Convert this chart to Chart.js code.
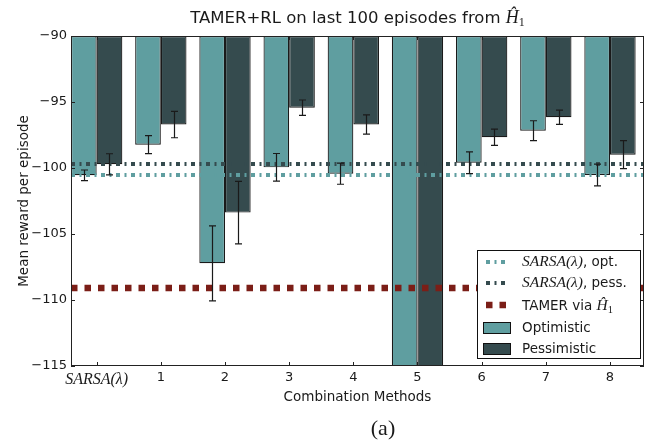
<!DOCTYPE html>
<html lang="en">
<head>
    <meta charset="UTF-8">
    <title>TAMER+RL on last 100 episodes</title>
    <script src="https://cdn.jsdelivr.net/npm/chart.js"></script>
    <style>
        body { margin: 0; background: #fff; }
        #wrap { width: 647px; height: 441px; }
    </style>
</head>
<body>
<div id="wrap"><canvas id="chart" width="647" height="441"></canvas></div>
<script>
    // x axis categories
    var methods = ['SARSA(\u03bb)', '1', '2', '3', '4', '5', '6', '7', '8'];
    // mean reward per episode (bars hang down from the top of the axis)
    var optimistic  = [-100.55, -98.23, -107.22, -99.95, -100.43, -121, -99.60, -97.17, -100.53];
    var pessimistic = [-99.72, -96.71, -103.38, -95.43, -96.71, -122, -97.67, -96.16, -98.99];
    // error bar half widths
    var optErr  = [0.40, 0.68, 2.84, 1.05, 0.80, 0, 0.82, 0.75, 0.82];
    var pessErr = [0.80, 1.00, 2.37, 0.58, 0.73, 0, 0.62, 0.54, 1.06];
    // reference levels
    var sarsaOpt = -100.53;
    var sarsaPess = -99.70;
    var tamerH1 = -109.09;
    // axis ranges
    var yMin = -115, yMax = -90, yStep = 5;
    var xMin = -0.4, xMax = 8.53;

    var optColor = '#5F9EA0';
    var pessColor = '#354B4E';
    var tamerColor = '#7B1E17';
    var sans = '"DejaVu Sans"';
    var serif = '"Liberation Serif"';

    function barData(vals) {
        return vals.map(function(v, i) { return {x: i, y: [yMax, v]}; });
    }
    function hline(v) {
        return [{x: xMin, y: v}, {x: xMax, y: v}];
    }

    // draw a row of text pieces with different fonts
    function drawRuns(ctx, runs, x, y, align) {
        var w = 0;
        runs.forEach(function(r) { ctx.font = r.f; w += ctx.measureText(r.t).width; });
        var cx = align === 'center' ? x - w / 2 : x;
        runs.forEach(function(r) {
            ctx.font = r.f;
            ctx.fillText(r.t, cx, y + (r.dy || 0));
            cx += ctx.measureText(r.t).width;
        });
    }

    var errorBars = {
        id: 'errorBars',
        afterDatasetsDraw: function(chart) {
            var ctx = chart.ctx, ys = chart.scales.y, a = chart.chartArea;
            ctx.save();
            ctx.beginPath();
            ctx.rect(a.left, a.top, a.right - a.left, a.bottom - a.top);
            ctx.clip();
            ctx.strokeStyle = '#1a1a1a';
            ctx.lineWidth = 1.2;
            [[0, optimistic, optErr], [1, pessimistic, pessErr]].forEach(function(s) {
                var meta = chart.getDatasetMeta(s[0]);
                meta.data.forEach(function(bar, i) {
                    var e = s[2][i];
                    if (!e) return;
                    var x = Math.round(bar.x) + 0.5;
                    var y1 = ys.getPixelForValue(s[1][i] + e);
                    var y2 = ys.getPixelForValue(s[1][i] - e);
                    ctx.beginPath();
                    ctx.moveTo(x, y1); ctx.lineTo(x, y2);
                    ctx.moveTo(x - 3.5, y1); ctx.lineTo(x + 3.5, y1);
                    ctx.moveTo(x - 3.5, y2); ctx.lineTo(x + 3.5, y2);
                    ctx.stroke();
                });
            });
            ctx.restore();
        }
    };

    var decorations = {
        id: 'decorations',
        afterDraw: function(chart) {
            var ctx = chart.ctx, a = chart.chartArea;
            var xs = chart.scales.x, ys = chart.scales.y;
            ctx.save();
            // frame and inward ticks
            ctx.strokeStyle = '#222';
            ctx.lineWidth = 1;
            ctx.strokeRect(a.left + 0.5, a.top + 0.5, a.right - a.left - 1, a.bottom - a.top - 1);
            ctx.beginPath();
            xs.ticks.forEach(function(t) {
                var px = Math.round(xs.getPixelForValue(t.value)) + 0.5;
                ctx.moveTo(px, a.bottom); ctx.lineTo(px, a.bottom - 4);
                ctx.moveTo(px, a.top); ctx.lineTo(px, a.top + 4);
            });
            ys.ticks.forEach(function(t) {
                var py = Math.round(ys.getPixelForValue(t.value)) + 0.5;
                ctx.moveTo(a.left, py); ctx.lineTo(a.left + 4, py);
                ctx.moveTo(a.right, py); ctx.lineTo(a.right - 4, py);
            });
            ctx.stroke();

            ctx.fillStyle = '#1a1a1a';
            ctx.textBaseline = 'alphabetic';
            var cx = (a.left + a.right) / 2;
            // title
            drawRuns(ctx, [
                {t: 'TAMER+RL on last 100 episodes from ', f: '16.5px ' + sans},
                {t: '\u0124', f: 'italic 18px ' + serif},
                {t: '1', f: '12px ' + serif, dy: 3}
            ], cx, 23, 'center');
            // axis titles
            ctx.textAlign = 'center';
            ctx.font = '13.5px ' + sans;
            ctx.fillText('Combination Methods', cx, 401);
            ctx.save();
            ctx.translate(28, (a.top + a.bottom) / 2);
            ctx.rotate(-Math.PI / 2);
            ctx.font = '13.5px ' + sans;
            ctx.fillText('Mean reward per episode', 0, 0);
            ctx.restore();
            ctx.font = '22px ' + serif;
            ctx.fillText('(a)', 383, 435);
            ctx.textAlign = 'left';

            // legend box
            var lx = 477, ly = 250, lw = 163, lh = 108;
            ctx.fillStyle = '#fff';
            ctx.fillRect(lx, ly, lw, lh);
            ctx.strokeStyle = '#111';
            ctx.strokeRect(lx + 0.5, ly + 0.5, lw, lh);
            var tx = 522;
            var rows = [262, 283, 305, 328, 349];
            // line samples
            function sample(y, color, width, dash) {
                ctx.beginPath();
                ctx.setLineDash(dash);
                ctx.strokeStyle = color;
                ctx.lineWidth = width;
                ctx.moveTo(486, y); ctx.lineTo(507, y);
                ctx.stroke();
                ctx.setLineDash([]);
            }
            sample(rows[0], optColor, 4, [4, 4.5, 2, 4.5]);
            sample(rows[1], pessColor, 4, [4, 4.5, 2, 4.5]);
            sample(rows[2], tamerColor, 6.5, [6.5, 7]);
            ctx.lineWidth = 1;
            ctx.strokeStyle = '#111';
            [[rows[3], optColor], [rows[4], pessColor]].forEach(function(p) {
                ctx.fillStyle = p[1];
                ctx.fillRect(483, p[0] - 5.5, 28, 11);
                ctx.strokeRect(483.5, p[0] - 5.5, 27, 11);
            });
            ctx.fillStyle = '#1a1a1a';
            ctx.textBaseline = 'middle';
            drawRuns(ctx, [
                {t: 'SARSA(\u03bb)', f: 'italic 15.5px ' + serif},
                {t: ', opt.', f: '13.5px ' + sans}
            ], tx, rows[0]);
            drawRuns(ctx, [
                {t: 'SARSA(\u03bb)', f: 'italic 15.5px ' + serif},
                {t: ', pess.', f: '13.5px ' + sans}
            ], tx, rows[1]);
            drawRuns(ctx, [
                {t: 'TAMER via ', f: '13.5px ' + sans},
                {t: '\u0124', f: 'italic 15.5px ' + serif},
                {t: '1', f: '10.5px ' + serif, dy: 4}
            ], tx, rows[2] + 1);
            ctx.font = '13.5px ' + sans;
            ctx.fillText('Optimistic', tx, rows[3]);
            ctx.fillText('Pessimistic', tx, rows[4]);
            ctx.restore();
        }
    };

    var ctx = document.getElementById('chart').getContext('2d');
    var chart = new Chart(ctx, {
        type: 'bar',
        data: {
            datasets: [{
                label: 'Optimistic',
                data: barData(optimistic),
                backgroundColor: optColor,
                borderColor: '#1a1a1a',
                borderWidth: 1.2,
                borderSkipped: false,
                categoryPercentage: 0.8,
                barPercentage: 1.0,
                order: 3
            }, {
                label: 'Pessimistic',
                data: barData(pessimistic),
                backgroundColor: pessColor,
                borderColor: '#1a1a1a',
                borderWidth: 1.2,
                borderSkipped: false,
                categoryPercentage: 0.8,
                barPercentage: 1.0,
                order: 3
            }, {
                type: 'line',
                label: 'SARSA opt',
                data: hline(sarsaOpt),
                borderColor: optColor,
                borderWidth: 4,
                borderDash: [4, 4.5, 2, 4.5],
                borderCapStyle: 'butt',
                pointRadius: 0,
                order: 2
            }, {
                type: 'line',
                label: 'SARSA pess',
                data: hline(sarsaPess),
                borderColor: pessColor,
                borderWidth: 4,
                borderDash: [4, 4.5, 2, 4.5],
                borderCapStyle: 'butt',
                pointRadius: 0,
                order: 1
            }, {
                type: 'line',
                label: 'TAMER',
                data: hline(tamerH1),
                borderColor: tamerColor,
                borderWidth: 6.5,
                borderDash: [6.5, 7],
                borderCapStyle: 'butt',
                pointRadius: 0,
                order: 0
            }]
        },
        options: {
            responsive: false,
            animation: false,
            layout: { padding: { top: 36, right: 3, left: 0, bottom: 0 } },
            plugins: {
                legend: { display: false },
                title: { display: false },
                tooltip: { enabled: false }
            },
            scales: {
                x: {
                    type: 'linear',
                    min: xMin,
                    max: xMax,
                    offset: false,
                    grid: { display: false, drawTicks: false, offset: false },
                    border: { display: false },
                    afterBuildTicks: function(scale) {
                        scale.ticks = methods.map(function(m, i) { return {value: i}; });
                    },
                    afterFit: function(scale) { scale.height = 75; },
                    ticks: {
                        padding: 4,
                        color: '#1a1a1a',
                        maxRotation: 0,
                        autoSkip: false,
                        font: function(c) {
                            return c.index === 0
                                ? {family: 'Liberation Serif', style: 'italic', size: 16}
                                : {family: 'DejaVu Sans', size: 13};
                        },
                        callback: function(v) { return methods[Math.round(v)]; }
                    }
                },
                y: {
                    min: yMin,
                    max: yMax,
                    grid: { display: false, drawTicks: false },
                    border: { display: false },
                    afterFit: function(scale) { scale.width = 71; },
                    ticks: {
                        stepSize: yStep,
                        padding: 4,
                        color: '#1a1a1a',
                        font: { family: 'DejaVu Sans', size: 13 },
                        callback: function(v) { return '\u2212' + Math.abs(v); }
                    }
                }
            }
        },
        plugins: [errorBars, decorations]
    });
</script>
</body>
</html>
